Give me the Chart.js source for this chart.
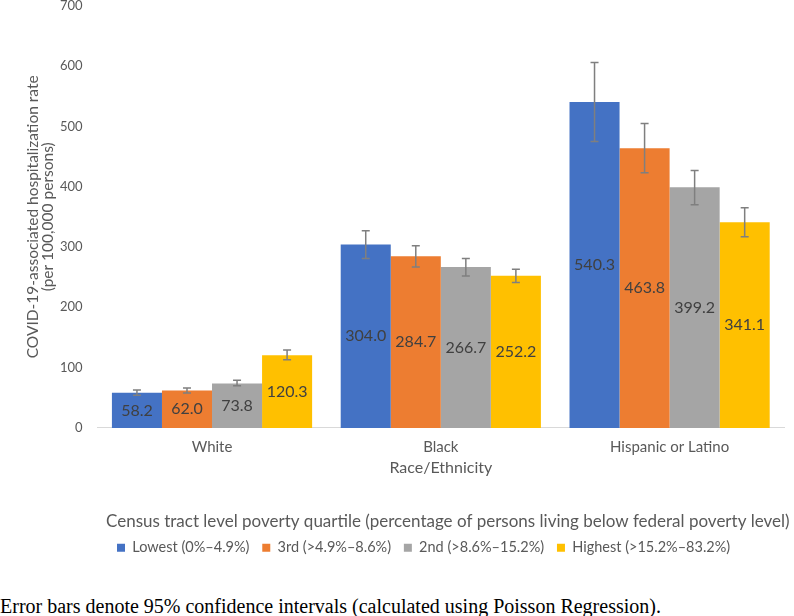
<!DOCTYPE html>
<html>
<head>
<meta charset="utf-8">
<script src="https://cdn.jsdelivr.net/npm/chart.js@4.4.1/dist/chart.umd.min.js"></script>
<style>
  html, body { margin: 0; padding: 0; background: #fff; }
  #wrap { position: relative; width: 794px; height: 616px; overflow: hidden; }
  #box { position: absolute; left: 0; top: -17px; width: 794px; height: 582px; }
  #foot { position: absolute; left: 0; top: 595px; font-family: "Liberation Serif", "Times New Roman", serif;
          font-size: 20px; line-height: 22px; color: #000; white-space: nowrap; }
</style>
</head>
<body>
<div id="wrap">
  <div id="box"><canvas id="c"></canvas></div>
  <div id="foot">Error bars denote 95% confidence intervals (calculated using Poisson Regression).</div>
</div>
<script>
const categories = ["White", "Black", "Hispanic or Latino"];
const seriesNames = ["Lowest (0%–4.9%)", "3rd (>4.9%–8.6%)", "2nd (>8.6%–15.2%)", "Highest (>15.2%–83.2%)"];
const seriesColors = ["#4472C4", "#ED7D31", "#A5A5A5", "#FFC000"];
const lowestValues = [58.2, 304.0, 540.3];
const thirdValues = [62.0, 284.7, 463.8];
const secondValues = [73.8, 266.7, 399.2];
const highestValues = [120.3, 252.2, 341.1];
const lowestCI = [[54, 63], [281, 327], [475, 606]];
const thirdCI = [[58, 66], [267, 302], [423, 505]];
const secondCI = [[70, 79], [252, 281], [370, 427]];
const highestCI = [[113, 129], [241, 263], [317, 365]];
const yTicks = [0, 100, 200, 300, 400, 500, 600, 700];

const allValues = [lowestValues, thirdValues, secondValues, highestValues];
const allCI = [lowestCI, thirdCI, secondCI, highestCI];
const FONT = "Lato, 'Open Sans', sans-serif";

const errorBars = {
  id: 'errorBars',
  afterDatasetsDraw(chart) {
    const ctx = chart.ctx, y = chart.scales.y;
    ctx.save();
    ctx.strokeStyle = '#7F7F7F';
    ctx.lineWidth = 1.5;
    chart.data.datasets.forEach((ds, i) => {
      const meta = chart.getDatasetMeta(i);
      meta.data.forEach((el, j) => {
        const ci = ds.ci[j];
        const x = el.x, y1 = y.getPixelForValue(ci[0]), y2 = y.getPixelForValue(ci[1]);
        ctx.beginPath();
        ctx.moveTo(x, y1); ctx.lineTo(x, y2);
        ctx.moveTo(x - 4, y1); ctx.lineTo(x + 4, y1);
        ctx.moveTo(x - 4, y2); ctx.lineTo(x + 4, y2);
        ctx.stroke();
      });
    });
    ctx.restore();
  }
};

const dataLabels = {
  id: 'dataLabels',
  afterDatasetsDraw(chart) {
    const ctx = chart.ctx;
    ctx.save();
    ctx.fillStyle = '#404040';
    ctx.font = "16px " + FONT;
    ctx.textAlign = 'center';
    ctx.textBaseline = 'middle';
    chart.data.datasets.forEach((ds, i) => {
      const meta = chart.getDatasetMeta(i);
      meta.data.forEach((el, j) => {
        ctx.fillText(ds.data[j].toFixed(1), el.x, (el.y + el.base) / 2);
      });
    });
    ctx.restore();
  }
};

const shiftLegend = {
  id: 'shiftLegend',
  afterLayout(chart) {
    if (chart.legend) { chart.legend.left = 106; chart.legend.right = 794; }
  }
};

new Chart(document.getElementById('c'), {
  type: 'bar',
  data: {
    labels: categories,
    datasets: seriesNames.map((n, i) => ({
      label: n,
      data: allValues[i],
      ci: allCI[i],
      backgroundColor: seriesColors[i],
      borderWidth: 0,
      categoryPercentage: 0.875,
      barPercentage: 1.0
    }))
  },
  options: {
    responsive: true,
    maintainAspectRatio: false,
    animation: false,
    layout: { padding: { left: 0, right: 10, top: 0, bottom: 0 } },
    scales: {
      x: {
        grid: { display: false, drawTicks: false },
        border: { display: true, color: '#D9D9D9', width: 1 },
        ticks: { color: '#595959', font: { family: FONT, size: 15 }, padding: 10 },
        title: { display: true, text: 'Race/Ethnicity', color: '#595959', font: { family: FONT, size: 16 }, padding: { top: -8, bottom: 0 } }
      },
      y: {
        min: 0, max: 700,
        afterBuildTicks(axis) { axis.ticks = yTicks.map(v => ({ value: v })); },
        grid: { display: false, drawTicks: false },
        border: { display: false },
        ticks: { color: '#595959', font: { family: FONT, size: 13 }, padding: 15 },
        title: { display: true, text: ['COVID-19-associated hospitalization rate', '(per 100,000 persons)'], color: '#595959', font: { family: FONT, size: 15.5, lineHeight: 1.0 }, padding: { top: 25, bottom: -11 } }
      }
    },
    plugins: {
      legend: {
        position: 'bottom',
        align: 'start',
        title: { display: true, text: 'Census tract level poverty quartile (percentage of persons living below federal poverty level)', color: '#595959', font: { family: FONT, size: 17 }, padding: { top: 36, bottom: -4 }, position: 'start' },
        labels: {
          boxWidth: 8, boxHeight: 8, color: '#595959', font: { family: FONT, size: 14.5 }, padding: 11,
          generateLabels(chart) {
            return chart.data.datasets.map((ds, i) => ({
              text: ds.label + '\u2009',
              fillStyle: ds.backgroundColor,
              strokeStyle: ds.backgroundColor,
              lineWidth: 0,
              fontColor: '#595959',
              hidden: false,
              datasetIndex: i
            }));
          }
        }
      },
      tooltip: { enabled: false }
    }
  },
  plugins: [errorBars, dataLabels, shiftLegend]
});
</script>
</body>
</html>
